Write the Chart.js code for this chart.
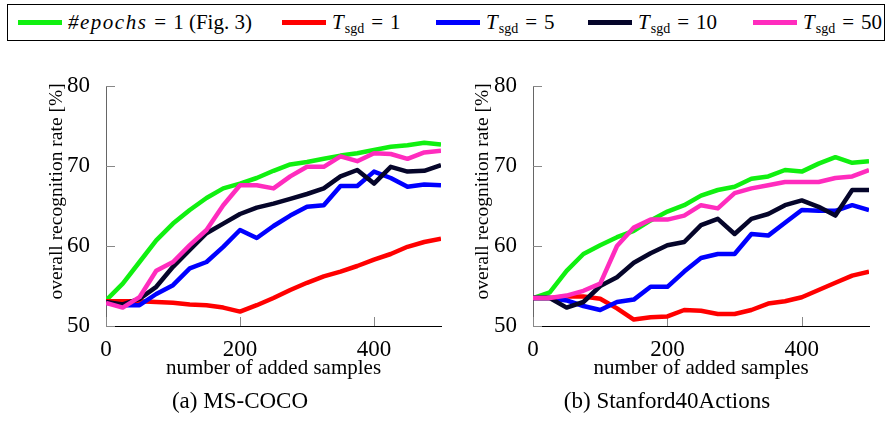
<!DOCTYPE html>
<html>
<head>
<meta charset="utf-8">
<script src="https://cdn.jsdelivr.net/npm/chart.js@4.4.1/dist/chart.umd.min.js"></script>
<style>
  body { margin: 0; width: 893px; height: 424px; background: #fff; position: relative; overflow: hidden; font-family: "Liberation Serif", serif; color: #000; }
  #legend { position: absolute; left: 7px; top: 4px; width: 878px; height: 37px; border: 1px solid #000; box-sizing: border-box;
            font-size: 21px; white-space: nowrap; }
  .item { position: absolute; top: 0; height: 35px; display: flex; align-items: center; gap: 6px; }
  .item:nth-child(1) { left: 10px; }
  .item:nth-child(2) { left: 274px; }
  .item:nth-child(3) { left: 428px; }
  .item:nth-child(4) { left: 580px; }
  .item:nth-child(5) { left: 745px; }
  .item:nth-child(1) i { letter-spacing: 1.5px; }
  .swatch { width: 44px; height: 5px; }
  .item sub { font-size: 14px; font-style: normal; vertical-align: -4px; line-height: 0; margin-left: 1px; }
  .item .eq { margin: 0 7px; }
  .box { position: absolute; top: 60px; height: 330px; }
  #boxA { left: 0; width: 450px; }
  #boxB { left: 450px; width: 443px; }
  .caption { position: absolute; top: 388px; font-size: 23px; transform: translateX(-50%); white-space: nowrap; }
</style>
</head>
<body>
<div id="legend"></div>
<div class="box" id="boxA"><canvas id="coco" width="450" height="330"></canvas></div>
<div class="box" id="boxB"><canvas id="stanford" width="443" height="330"></canvas></div>
<div class="caption" style="left:240px">(a) MS-COCO</div>
<div class="caption" style="left:667px">(b) Stanford40Actions</div>
<script>
// number of added samples
const samples = [0, 25, 50, 75, 100, 125, 150, 175, 200, 225, 250, 275, 300, 325, 350, 375, 400, 425, 450, 475, 500];

// (a) MS-COCO
const cocoEpochs = [53.2, 55.3, 58.0, 60.7, 62.8, 64.5, 66.0, 67.2, 67.8, 68.5, 69.4, 70.2, 70.5, 70.9, 71.3, 71.6, 72.0, 72.4, 72.6, 72.9, 72.7];
const cocoSgd1   = [53.1, 53.1, 53.1, 53.0, 52.9, 52.7, 52.6, 52.3, 51.8, 52.6, 53.5, 54.5, 55.4, 56.2, 56.8, 57.5, 58.3, 59.0, 59.9, 60.5, 60.9];
const cocoSgd5   = [52.9, 52.6, 52.6, 54.0, 55.1, 57.2, 58.0, 59.9, 62.0, 61.0, 62.5, 63.8, 64.9, 65.1, 67.5, 67.5, 69.3, 68.5, 67.4, 67.7, 67.6];
const cocoSgd10  = [53.0, 52.7, 53.4, 54.9, 57.4, 59.5, 61.6, 62.8, 64.0, 64.8, 65.3, 65.9, 66.5, 67.2, 68.7, 69.5, 67.8, 69.9, 69.3, 69.4, 70.1];
const cocoSgd50  = [52.9, 52.3, 53.6, 56.9, 58.0, 60.1, 62.0, 65.1, 67.6, 67.6, 67.2, 68.7, 69.9, 69.9, 71.2, 70.6, 71.6, 71.5, 70.9, 71.7, 71.9];

// (b) Stanford40Actions
const stanEpochs = [53.5, 54.2, 56.9, 59.0, 60.1, 61.1, 61.9, 63.2, 64.3, 65.1, 66.3, 67.0, 67.4, 68.4, 68.7, 69.5, 69.3, 70.3, 71.1, 70.4, 70.6];
const stanSgd1   = [53.5, 53.5, 53.7, 53.7, 53.4, 52.2, 50.8, 51.1, 51.2, 52.0, 51.9, 51.5, 51.5, 52.0, 52.8, 53.1, 53.6, 54.5, 55.4, 56.3, 56.8];
const stanSgd5   = [53.5, 53.5, 53.2, 52.5, 52.0, 53.0, 53.3, 54.9, 54.9, 56.8, 58.5, 59.0, 59.0, 61.5, 61.3, 62.9, 64.5, 64.4, 64.4, 65.1, 64.5];
const stanSgd10  = [53.5, 53.5, 52.3, 53.0, 55.0, 56.1, 57.9, 59.1, 60.1, 60.5, 62.6, 63.4, 61.5, 63.4, 64.0, 65.1, 65.7, 64.9, 63.8, 67.0, 67.0];
const stanSgd50  = [53.5, 53.5, 53.8, 54.4, 55.3, 60.0, 62.3, 63.3, 63.3, 63.8, 65.1, 64.7, 66.6, 67.2, 67.6, 68.0, 68.0, 68.0, 68.5, 68.7, 69.5];

const seriesColors = ['#10f010', '#ff0000', '#0000ff', '#05052a', '#ff2cbe'];
const legendHtml = [
  '<i>#epochs</i><span class="eq">=</span>1 (Fig. 3)',
  '<i>T</i><sub>sgd</sub><span class="eq">=</span>1',
  '<i>T</i><sub>sgd</sub><span class="eq">=</span>5',
  '<i>T</i><sub>sgd</sub><span class="eq">=</span>10',
  '<i>T</i><sub>sgd</sub><span class="eq">=</span>50'
];

const serif = '"Liberation Serif", serif';

// html legend (needs subscripts)
const legend = document.getElementById('legend');
legendHtml.forEach((txt, i) => {
  const item = document.createElement('div');
  item.className = 'item';
  item.innerHTML = '<span class="swatch" style="background:' + seriesColors[i] + '"></span><span>' + txt + '</span>';
  legend.appendChild(item);
});

// pgfplots-style ticks pointing into the plot area
const innerTicks = {
  id: 'innerTicks',
  beforeDatasetsDraw(chart) {
    const { ctx, chartArea: a, scales: { x, y } } = chart;
    ctx.save();
    ctx.strokeStyle = '#888';
    ctx.lineWidth = 1;
    ctx.beginPath();
    x.ticks.forEach(t => {
      const px = Math.round(x.getPixelForValue(t.value)) + 0.5;
      ctx.moveTo(px, a.bottom);
      ctx.lineTo(px, a.bottom - 9);
    });
    y.ticks.forEach(t => {
      const py = Math.round(y.getPixelForValue(t.value)) + 0.5;
      ctx.moveTo(a.left, py);
      ctx.lineTo(a.left + 9, py);
    });
    ctx.stroke();
    ctx.restore();
  }
};

function makeChart(id, series, padLeft, padRight, yWidth) {
  const datasets = series.map((vals, i) => ({
    data: samples.map((s, k) => ({ x: s, y: vals[k] })),
    borderColor: seriesColors[i],
    borderWidth: 4.5,
    pointRadius: 0,
    tension: 0,
    fill: false,
    borderJoinStyle: 'round',
    order: series.length - i
  }));

  return new Chart(document.getElementById(id), {
    type: 'line',
    data: { datasets: datasets },
    plugins: [innerTicks],
    options: {
      responsive: false,
      animation: false,
      layout: { padding: { left: padLeft, right: padRight, top: 26, bottom: 0 } },
      plugins: { legend: { display: false }, tooltip: { enabled: false } },
      scales: {
        x: {
          type: 'linear',
          min: 0,
          max: 500,
          afterFit: scale => { scale.height = 64; },
          grid: { display: false },
          border: { display: true, color: '#000', width: 1 },
          ticks: { stepSize: 200, includeBounds: false, padding: 2, color: '#000', maxRotation: 0, font: { family: serif, size: 23 } },
          title: { display: true, text: 'number of added samples', color: '#000', padding: { top: 0, bottom: 9 }, font: { family: serif, size: 21 } }
        },
        y: {
          min: 50,
          max: 80,
          afterFit: scale => { scale.width = yWidth; },
          grid: { display: false },
          border: { display: true, color: '#666', width: 1 },
          ticks: { stepSize: 10, padding: 8, color: '#000', font: { family: serif, size: 23 } },
          // leading em/en spaces nudge the label upward like in the original figure
          title: { display: true, text: '\u2003\u2002overall recognition rate [%]', color: '#000', padding: { top: 5, bottom: 0 }, font: { family: serif, size: 19.5 } }
        }
      }
    }
  });
}

makeChart('coco', [cocoEpochs, cocoSgd1, cocoSgd5, cocoSgd10, cocoSgd50], 40, 9, 66);
makeChart('stanford', [stanEpochs, stanSgd1, stanSgd5, stanSgd10, stanSgd50], 16, 24, 67);
</script>
</body>
</html>
